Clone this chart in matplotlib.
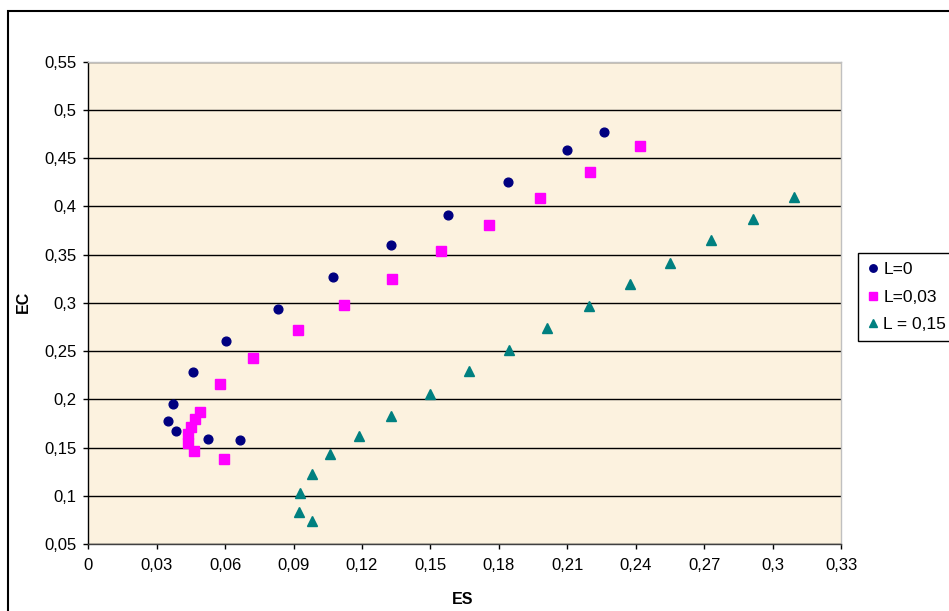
import matplotlib
matplotlib.use('Agg')
import matplotlib.pyplot as plt
from matplotlib.patches import Rectangle

# police type Arial
plt.rcParams['font.family'] = ['Liberation Sans', 'DejaVu Sans']
plt.rcParams['font.size'] = 11

# données (ES, EC)
es_l0 = [0.0350, 0.0371, 0.0384, 0.0457, 0.0524, 0.0666, 0.0604, 0.0831,
         0.1072, 0.1326, 0.1579, 0.1840, 0.2100, 0.2260]
ec_l0 = [0.1782, 0.1955, 0.1672, 0.2287, 0.1592, 0.1578, 0.2606, 0.2938,
         0.3266, 0.3598, 0.3914, 0.4249, 0.4581, 0.4771]

es_l003 = [0.0491, 0.0470, 0.0451, 0.0437, 0.0437, 0.0464, 0.0597, 0.0577,
           0.0724, 0.0918, 0.1119, 0.1332, 0.1545, 0.1759, 0.1980, 0.2199, 0.2419]
ec_l003 = [0.1875, 0.1797, 0.1717, 0.1637, 0.1547, 0.1464, 0.1387, 0.2160,
           0.2433, 0.2716, 0.2983, 0.3253, 0.3536, 0.3806, 0.4090, 0.4360, 0.4626]

es_l015 = [0.0922, 0.0981, 0.0928, 0.0981, 0.1060, 0.1187, 0.1329, 0.1497,
           0.1669, 0.1843, 0.2013, 0.2197, 0.2377, 0.2551, 0.2730, 0.2913, 0.3092]
ec_l015 = [0.0837, 0.0741, 0.1028, 0.1232, 0.1436, 0.1626, 0.1831, 0.2052,
           0.2291, 0.2509, 0.2744, 0.2973, 0.3194, 0.3416, 0.3650, 0.3872, 0.4094]

series_labels = ['L=0', 'L=0,03', 'L = 0,15']

x_ticks = [0, 0.03, 0.06, 0.09, 0.12, 0.15, 0.18, 0.21, 0.24, 0.27, 0.30, 0.33]
x_tick_labels = ['0', '0,03', '0,06', '0,09', '0,12', '0,15', '0,18', '0,21',
                 '0,24', '0,27', '0,3', '0,33']
y_ticks = [0.05, 0.10, 0.15, 0.20, 0.25, 0.30, 0.35, 0.40, 0.45, 0.50, 0.55]
y_tick_labels = ['0,05', '0,1', '0,15', '0,2', '0,25', '0,3', '0,35', '0,4',
                 '0,45', '0,5', '0,55']

fig = plt.figure(figsize=(9.49, 6.11), dpi=100)
ax = fig.add_axes([0.0930, 0.1093, 0.7932, 0.7897])
ax.set_facecolor('#FCF2DF')

# cadre du graphique (coupé à droite et en bas)
fig.patches.append(Rectangle((0.0084, -0.1), 1.2, 1.0825, transform=fig.transFigure,
                             fill=False, edgecolor='black', linewidth=1.5))

ax.plot(es_l0, ec_l0, 'o', color='#000080', markersize=6.3, label=series_labels[0], zorder=3)
ax.plot(es_l003, ec_l003, 's', color='#FF00FF', markersize=6.5, label=series_labels[1], zorder=3)
ax.plot(es_l015, ec_l015, '^', color='#008080', markersize=7.5, label=series_labels[2], zorder=3)

ax.set_xlim(0, 0.33)
ax.set_ylim(0.05, 0.55)
ax.set_xticks(x_ticks)
ax.set_xticklabels(x_tick_labels)
ax.set_yticks(y_ticks)
ax.set_yticklabels(y_tick_labels)
ax.tick_params(axis='both', direction='out', length=3.6, width=1, labelsize=12)
ax.tick_params(axis='x', pad=6)
ax.tick_params(axis='y', pad=5)

ax.yaxis.grid(True, color='black', linewidth=1)
ax.set_axisbelow(True)

ax.spines['top'].set_color('#C0C0C0')
ax.spines['right'].set_color('#C0C0C0')
ax.spines['left'].set_color('black')
ax.spines['bottom'].set_color('#404040')
for s in ax.spines.values():
    s.set_linewidth(1)

fig.text(23 / 949, 1 - 302 / 611, 'EC', rotation=90, ha='center', va='center',
         fontsize=11.5, fontweight='bold')
fig.text(463 / 949, 1 - 600 / 611, 'ES', ha='center', va='center',
         fontsize=11.5, fontweight='bold')

leg = fig.legend(loc='upper left', bbox_to_anchor=(858.3 / 949, 1 - 253.3 / 611),
                 bbox_transform=fig.transFigure, borderaxespad=0, fancybox=False,
                 edgecolor='black', framealpha=1, fontsize=12.5, markerscale=0.85,
                 handlelength=0.7, handletextpad=0.25, borderpad=0.5, labelspacing=0.72)
leg.get_frame().set_linewidth(1)

fig.savefig('out.png', dpi=100)
